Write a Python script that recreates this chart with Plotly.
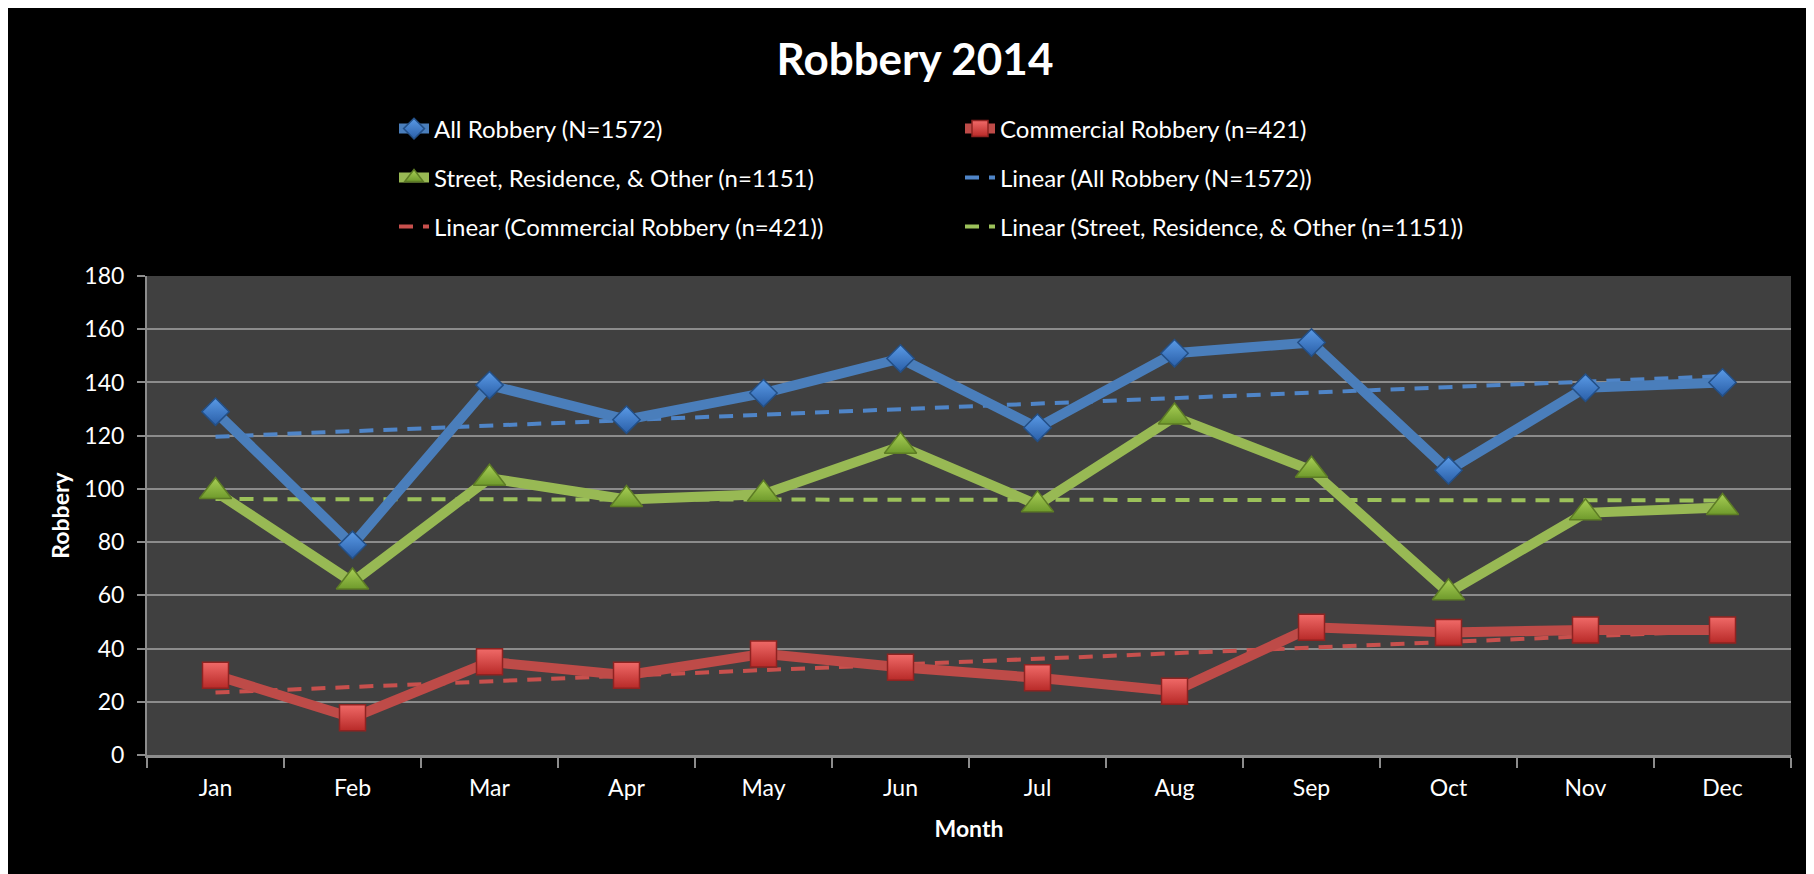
import numpy as np
import plotly.graph_objects as go

months = ["Jan", "Feb", "Mar", "Apr", "May", "Jun", "Jul", "Aug", "Sep", "Oct", "Nov", "Dec"]
all_robbery = [129, 79, 139, 126, 136, 149, 123, 151, 155, 107, 138, 140]
commercial = [30, 14, 35, 30, 38, 33, 29, 24, 48, 46, 47, 47]
street = [99, 65, 104, 96, 98, 116, 94, 127, 107, 61, 91, 93]

names = ["All Robbery (N=1572)", "Commercial Robbery (n=421)", "Street, Residence, & Other (n=1151)"]
y_ticks = [0, 20, 40, 60, 80, 100, 120, 140, 160, 180]

FONT = "Lato"
blue, red, green = "#4a7ebb", "#be4b48", "#98b954"


def trend(vals):
    x = np.arange(1, len(vals) + 1)
    k, b = np.polyfit(x, vals, 1)
    return k * x + b


fig = go.Figure()

trends = [
    (all_robbery, "Linear (" + names[0] + ")", "#4f85c8", "legend4"),
    (commercial, "Linear (" + names[1] + ")", "#c8504d", "legend5"),
    (street, "Linear (" + names[2] + ")", "#9cc15a", "legend6"),
]
for vals, name, col, lg in trends:
    fig.add_trace(go.Scatter(
        x=months, y=trend(vals), name=name, mode="lines", legend=lg,
        line=dict(color=col, width=4, dash="14px,10px"),
    ))

series = [
    (all_robbery, names[0], blue, "diamond", "#5a9ae6", "#2a5fa8", "#234f86", 21, "legend"),
    (commercial, names[1], red, "square", "#f06a68", "#b82a28", "#8e2321", 26, "legend2"),
    (street, names[2], green, "triangle-up", "#a8cf55", "#6f9a2c", "#5d7c25", 28, "legend3"),
]
for vals, name, col, sym, mcol, gcol, mline, msize, lg in series:
    fig.add_trace(go.Scatter(
        x=months, y=vals, name=name, mode="lines+markers", legend=lg,
        line=dict(color=col, width=10),
        marker=dict(symbol=sym, size=msize, color=mcol,
                    gradient=dict(type="vertical", color=gcol),
                    line=dict(color=mline, width=1.5)),
    ))

W, H = 1814, 874
ML, MR, MT, MB = 139, 31, 268, 127
PW, PH = W - ML - MR, H - MT - MB

leg_font = dict(family=FONT, size=24, color="white")
col1_x, col2_x = 386, 952
rows_y = [121, 170, 219]
legend_pos = {
    "legend": (col1_x, rows_y[0]),
    "legend2": (col2_x, rows_y[0]),
    "legend3": (col1_x, rows_y[1]),
    "legend4": (col2_x, rows_y[1]),
    "legend5": (col1_x, rows_y[2]),
    "legend6": (col2_x, rows_y[2]),
}
for key, (px, py) in legend_pos.items():
    fig.update_layout(**{key: dict(
        x=(px - ML) / PW, y=(H - MB - py) / PH, xref="paper", yref="paper",
        xanchor="left", yanchor="middle", bgcolor="rgba(0,0,0,0)",
        font=leg_font, borderwidth=0, itemwidth=30,
    )})

fig.update_layout(
    width=W, height=H,
    paper_bgcolor="black", plot_bgcolor="#404040",
    margin=dict(l=ML, r=MR, t=MT, b=MB, autoexpand=False),
    title=dict(text="<b>Robbery 2014</b>", x=0.5, xanchor="center",
               y=1 - 52 / H, yanchor="middle", yref="container",
               font=dict(family=FONT, size=44, color="white")),
    showlegend=True,
    xaxis=dict(
        type="category", categoryorder="array", categoryarray=months,
        tickmode="array", tickvals=months, ticktext=months,
        tickson="boundaries", ticks="outside", ticklen=10, tickwidth=2,
        tickcolor="#8c8c8c", showline=True, linecolor="#8c8c8c", linewidth=3,
        showgrid=False, zeroline=False, ticklabelstandoff=10,
        tickfont=dict(family=FONT, size=23, color="white"),
        title=dict(text="<b>Month</b>", standoff=22,
                   font=dict(family=FONT, size=23, color="white")),
        range=[-0.5, 11.5],
    ),
    yaxis=dict(
        range=[0, 180], tickmode="array", tickvals=y_ticks,
        ticks="outside", ticklen=8, tickwidth=2, tickcolor="#8c8c8c",
        showline=True, linecolor="#8c8c8c", linewidth=2,
        showgrid=True, gridcolor="#8c8c8c", gridwidth=2, zeroline=False,
        ticklabelstandoff=8,
        tickfont=dict(family=FONT, size=23, color="white"),
        title=dict(text="<b>Robbery</b>", standoff=8,
                   font=dict(family=FONT, size=23, color="white")),
    ),
)

fig.write_html("out.html")
